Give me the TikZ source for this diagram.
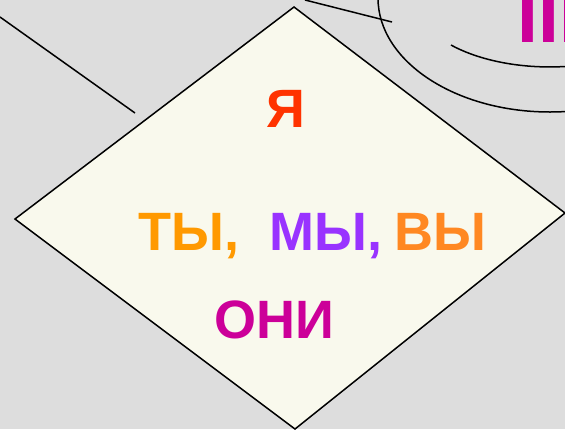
\documentclass[tikz,border=0pt]{standalone}
\usepackage{fontspec}
\setmainfont{Liberation Sans}
\definecolor{bgray}{HTML}{DDDDDD}
\definecolor{cream}{HTML}{F9F9ED}
\definecolor{cya}{HTML}{FF3300}
\definecolor{cty}{HTML}{FF9900}
\definecolor{cmy}{HTML}{9933FF}
\definecolor{cvy}{HTML}{FF8822}
\definecolor{coni}{HTML}{CC0099}

\begin{document}
\begin{tikzpicture}
	 [x=1pt,y=-1pt,line width=1.5pt,every node/.style={inner sep=0pt,anchor=base west,font=\fontsize{54}{60}\selectfont\bfseries}]
	\useasboundingbox (0,0) rectangle (565,429);
	\fill[bgray] (0,0) rectangle (565,429);
	\clip (0,0) rectangle (565,429);

	  \coordinate (t) at (294,7);
	  \coordinate (r) at (565,213);
	  \coordinate (b) at (295,429);
	  \coordinate (l) at (15,219);

	\filldraw[fill=cream] (t) -- (r) -- (b) -- (l) -- cycle;

	  \coordinate (a1) at (0,17);
	  \coordinate (a2) at (135,113);
	  \coordinate (c1) at (305,0);
	  \coordinate (c2) at (392,22);

	\foreach \from/\to in {a1/a2,c1/c2}
    \draw (\from) -- (\to);

	  \coordinate (e) at (550,-2);
	\draw (e) ellipse [x radius=172,y radius=114];
	\draw (451,45) arc [start angle=137,end angle=80,x radius=135,y radius=69];

	\node[text=cya] (ya) at (266,127) {Я};
	\node[text=cty] (ty) at (138,250) {ТЫ,};
	\node[text=cmy] (my) at (269,250) {МЫ,};
	\node[text=cvy] (vy) at (394,250) {ВЫ};
	\node[text=coni] (oni) at (214,338) {ОНИ};

	\node[text=coni,font=\fontsize{75}{80}\selectfont\bfseries] (sh) at (517,42) {III};

\end{tikzpicture}
\end{document}
